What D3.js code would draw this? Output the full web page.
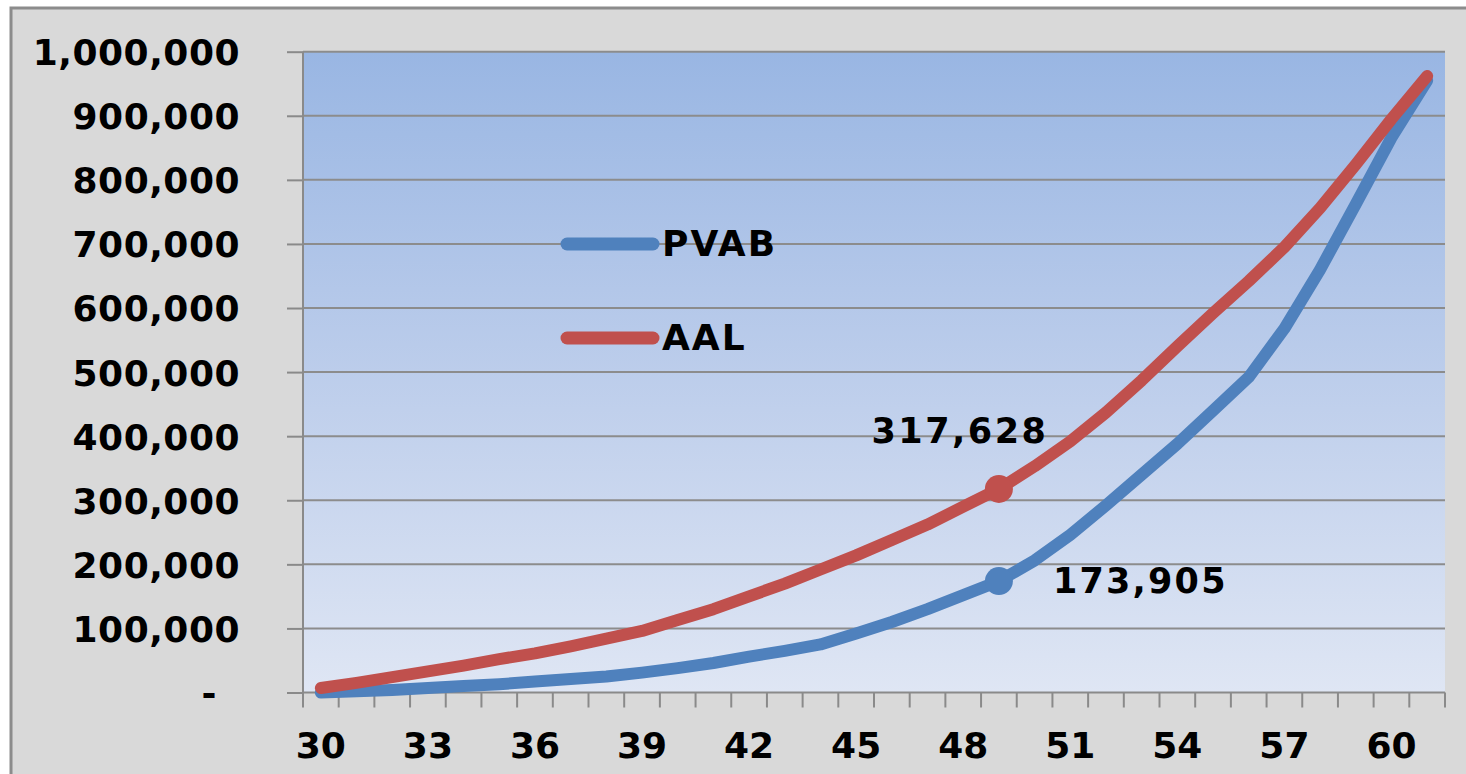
<!DOCTYPE html>
<html>
<head>
<meta charset="utf-8">
<script src="https://cdn.jsdelivr.net/npm/d3@7"></script>
<style>
html,body{margin:0;padding:0;background:#fff;}
svg{display:block;}
</style>
</head>
<body>
<svg id="chart" width="1466" height="774"></svg>
<script>
// ---- data ----
const ages = d3.range(30, 62);
const pvab = [0, 2000, 4000, 7000, 10000, 13000, 17000, 21000, 25000, 31000,
  38000, 46000, 56000, 65000, 75000, 92000, 110000, 130000, 152000, 173905,
  206000, 246000, 292000, 340000, 388000, 440000, 492000, 568000, 660000, 762000,
  866000, 955000];
const aal = [7000, 15000, 24000, 33000, 42000, 52000, 61000, 72000, 84000, 96000,
  113000, 130000, 150000, 170000, 192000, 214000, 238000, 262000, 290000, 317628,
  353000, 392000, 437000, 487000, 540000, 592000, 642000, 695000, 756000, 824000,
  895000, 962000];
const yTicks = d3.range(0, 1000001, 100000);
const xLabelAges = ages.filter(a => (a - 30) % 3 === 0);
const highlightAge = 49;
const seriesNames = ["PVAB", "AAL"];
const seriesColors = ["#4f81bd", "#c0504d"];

// ---- layout ----
const svg = d3.select("#chart");
const L = 303, R = 1445, T = 51.7, B = 692.5;
const font = "'DejaVu Sans', Verdana, sans-serif";

// chart area background + frame
svg.append("rect").attr("x", 11).attr("y", 8).attr("width", 1480).attr("height", 800)
  .attr("fill", "#d9d9d9").attr("stroke", "#8c8c8c").attr("stroke-width", 3);

const defs = svg.append("defs");
const grad = defs.append("linearGradient").attr("id", "pg")
  .attr("x1", 0).attr("y1", 0).attr("x2", 0).attr("y2", 1);
grad.append("stop").attr("offset", "0%").attr("stop-color", "#99b6e3");
grad.append("stop").attr("offset", "50%").attr("stop-color", "#bccdeb");
grad.append("stop").attr("offset", "100%").attr("stop-color", "#dfe6f4");

const x = d3.scaleBand().domain(ages).range([L, R]);
const xc = a => x(a) + x.bandwidth() / 2;
const y = d3.scaleLinear().domain([0, 1000000]).range([B, T]);

svg.append("rect").attr("x", L).attr("y", T).attr("width", R - L).attr("height", B - T)
  .attr("fill", "url(#pg)");

// gridlines + y axis
const yAxis = d3.axisLeft(y).tickValues(yTicks).tickSize(16).tickPadding(47)
  .tickFormat(d => d === 0 ? "-" : d3.format(",")(d));
const gy = svg.append("g").attr("transform", `translate(${L},0)`).call(yAxis);
gy.select(".domain").remove();
gy.selectAll(".tick line").attr("stroke", "#8a8a8a").attr("stroke-width", 2);
gy.selectAll(".tick text").attr("font-family", font).attr("font-weight", "bold")
  .attr("font-size", 36).attr("fill", "#000").attr("dy", "0.36em")
  .attr("letter-spacing", 0.5);
gy.selectAll(".tick text").filter(d => d === 0).attr("dx", -23);

svg.append("g").selectAll("line").data(yTicks.filter(d => d > 0)).join("line")
  .attr("x1", L).attr("x2", R).attr("y1", d => y(d)).attr("y2", d => y(d))
  .attr("stroke", "#8c8c8c").attr("stroke-width", 2);

// y axis line
svg.append("line").attr("x1", L).attr("x2", L).attr("y1", T).attr("y2", B)
  .attr("stroke", "#8a8a8a").attr("stroke-width", 2);
// x axis line
svg.append("line").attr("x1", L).attr("x2", R).attr("y1", B).attr("y2", B)
  .attr("stroke", "#8a8a8a").attr("stroke-width", 2);
// x tick marks at band boundaries
const bounds = ages.map(a => x(a)).concat([R]);
svg.append("g").selectAll("line").data(bounds).join("line")
  .attr("x1", d => d).attr("x2", d => d).attr("y1", B).attr("y2", B + 15)
  .attr("stroke", "#8a8a8a").attr("stroke-width", 2);
// x labels
svg.append("g").selectAll("text").data(xLabelAges).join("text")
  .attr("x", d => xc(d)).attr("y", 758).attr("text-anchor", "middle")
  .attr("font-family", font).attr("font-weight", "bold").attr("font-size", 36)
  .attr("fill", "#000").text(d => d);

// lines
const seriesData = [pvab, aal];
const line = d3.line().x((d, i) => xc(ages[i])).y(d => y(d));
seriesData.forEach((s, k) => {
  svg.append("path").datum(s).attr("d", line).attr("fill", "none")
    .attr("stroke", seriesColors[k]).attr("stroke-width", 12)
    .attr("stroke-linecap", "round").attr("stroke-linejoin", "round");
});

// highlighted points
const hi = ages.indexOf(highlightAge);
seriesData.forEach((s, k) => {
  svg.append("circle").attr("cx", xc(highlightAge)).attr("cy", y(s[hi])).attr("r", 14)
    .attr("fill", seriesColors[k]);
});
// data labels
svg.append("text").attr("x", xc(highlightAge) - 39).attr("y", y(aal[hi]) - 46)
  .attr("text-anchor", "middle").attr("font-family", font).attr("font-weight", "bold")
  .attr("font-size", 35).attr("letter-spacing", 2.5).attr("fill", "#000")
  .text(d3.format(",")(aal[hi]));
svg.append("text").attr("x", xc(highlightAge) + 54).attr("y", y(pvab[hi]) + 12)
  .attr("text-anchor", "start").attr("font-family", font).attr("font-weight", "bold")
  .attr("font-size", 35).attr("letter-spacing", 2.2).attr("fill", "#000")
  .text(d3.format(",")(pvab[hi]));

// legend
const legY = [244, 338];
seriesNames.forEach((n, k) => {
  svg.append("line").attr("x1", 567).attr("x2", 653).attr("y1", legY[k]).attr("y2", legY[k])
    .attr("stroke", seriesColors[k]).attr("stroke-width", 13).attr("stroke-linecap", "round");
  svg.append("text").attr("x", 662).attr("y", legY[k] + 12).attr("font-family", font)
    .attr("font-weight", "bold").attr("font-size", 36).attr("letter-spacing", 2)
    .attr("fill", "#000").text(n);
});
</script>
</body>
</html>
